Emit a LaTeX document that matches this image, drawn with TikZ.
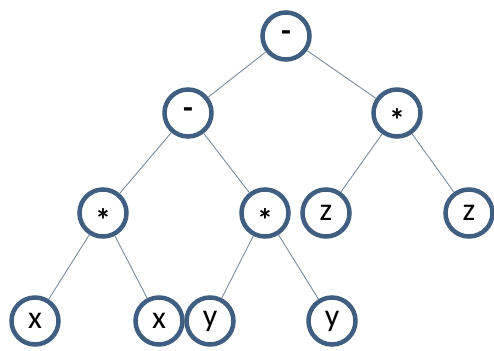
\documentclass[tikz,border=0pt]{standalone}
\usepackage{fontspec}
\setmainfont{Carlito}
\definecolor{ring}{HTML}{3F5F82}
\definecolor{edge}{HTML}{7D8B99}
\newcommand{\myast}{\raisebox{-7pt}[\height][\depth]{*}}
\begin{document}
\begin{tikzpicture}[x=1pt,y=1pt,
  tn/.style={circle,draw=ring,line width=4.5pt,fill=white,minimum size=47pt,inner sep=0pt,font=\fontsize{32}{32}\selectfont},
  op/.style={tn,font=\fontsize{32}{32}\selectfont\bfseries},
  ed/.style={draw=edge,line width=0.9pt}]
\useasboundingbox (0,0) rectangle (494,350);
\node[op] (root) at (286,314) {-};
\node[op] (m) at (188,237) {-};
\node[op] (sr) at (397,237) {\myast};
\node[op] (sl) at (103,137) {\myast};
\node[op] (sm) at (265,137) {\myast};
\node[tn] (z1) at (326,137) {z};
\node[tn] (z2) at (469,137) {z};
\node[tn] (x1) at (35,29) {x};
\node[tn] (x2) at (159,29) {x};
\node[tn] (y1) at (210,29) {y};
\node[tn] (y2) at (332,29) {y};
\draw[ed] (root) -- (m);
\draw[ed] (root) -- (sr);
\draw[ed] (m) -- (sl);
\draw[ed] (m) -- (sm);
\draw[ed] (sr) -- (z1);
\draw[ed] (sr) -- (z2);
\draw[ed] (sl) -- (x1);
\draw[ed] (sl) -- (x2);
\draw[ed] (sm) -- (y1);
\draw[ed] (sm) -- (y2);
\end{tikzpicture}
\end{document}
